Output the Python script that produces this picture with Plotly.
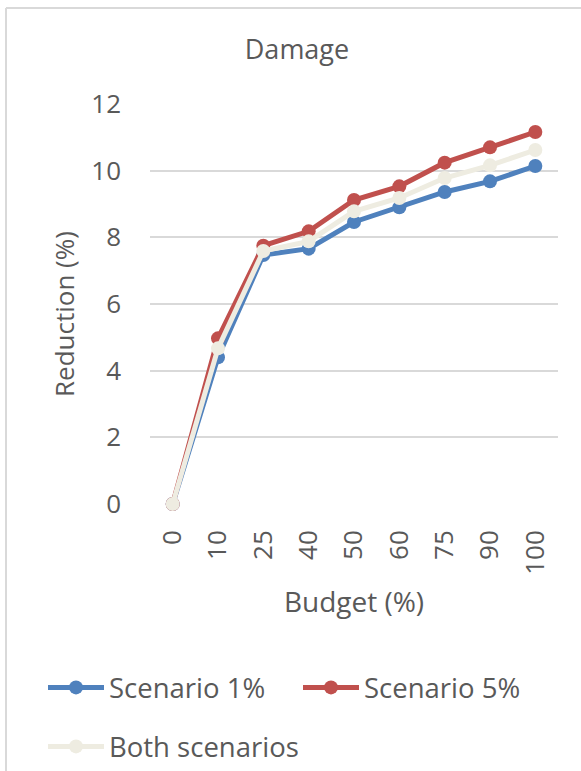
import plotly.graph_objects as go

# Budget levels (category labels on the x axis)
budget = ["0", "10", "25", "40", "50", "60", "75", "90", "100"]

# Damage reduction (%) per scenario
scenario_1 = [0.0, 4.40, 7.47, 7.66, 8.46, 8.90, 9.36, 9.68, 10.14]
scenario_5 = [0.0, 4.97, 7.75, 8.18, 9.12, 9.53, 10.24, 10.70, 11.16]
both = [0.0, 4.67, 7.59, 7.88, 8.78, 9.18, 9.78, 10.16, 10.62]

y_ticks = [0, 2, 4, 6, 8, 10, 12]

series = [
    ("Scenario 1%", scenario_1, "#4F81BD", "legend"),
    ("Scenario 5%", scenario_5, "#C0504D", "legend"),
    ("Both scenarios", both, "#EEECE1", "legend2"),
]

FONT = "Open Sans"
TEXT = "#595959"

fig = go.Figure()
for name, vals, color, leg in series:
    fig.add_trace(go.Scatter(
        x=budget, y=vals, name=name, mode="lines+markers",
        line=dict(color=color, width=5),
        marker=dict(color=color, size=14),
        cliponaxis=False, legend=leg,
    ))

W, H = 581, 771
L, R, T, B = 150, 23, 104, 267
pw, ph = W - L - R, H - T - B


def px_x(px):
    return (px - L) / pw


def px_y(py):
    return (H - B - py) / ph


legend_common = dict(
    orientation="h", xanchor="left", yanchor="top",
    font=dict(family=FONT, size=27.5, color=TEXT),
    entrywidth=184, entrywidthmode="pixels", itemwidth=56,
    traceorder="normal", bgcolor="rgba(0,0,0,0)",
)

fig.update_layout(
    width=W, height=H,
    margin=dict(l=L, r=R, t=T, b=B, pad=0, autoexpand=False),
    paper_bgcolor="white", plot_bgcolor="white",
    font=dict(family=FONT, color=TEXT, size=26),
    title=dict(text="Damage", x=297 / W, xanchor="center", xref="container",
               y=1 - 50 / H, yanchor="middle", yref="container",
               font=dict(family=FONT, size=27, color=TEXT)),
    showlegend=True,
    legend=dict(x=px_x(43), y=px_y(663), **legend_common),
    legend2=dict(x=px_x(43), y=px_y(722), **legend_common),
    xaxis=dict(
        type="category", range=[-0.5, 8.5], tickangle=-90,
        showgrid=False, zeroline=False, showline=False, ticks="",
        ticklabelstandoff=20,
        tickfont=dict(family=FONT, size=26, color=TEXT),
        title=dict(text="Budget (%)", standoff=18,
                   font=dict(family=FONT, size=28, color=TEXT)),
    ),
    yaxis=dict(
        range=[0, 12], tickvals=y_ticks,
        showgrid=True, gridcolor="#D9D9D9", gridwidth=1.5,
        zeroline=False, showline=False, ticks="",
        ticklabelstandoff=28,
        tickfont=dict(family=FONT, size=26, color=TEXT),
    ),
    annotations=[dict(
        text="Reduction (%)", textangle=-90, showarrow=False,
        xref="paper", yref="paper", x=px_x(64), y=px_y(314),
        xanchor="center", yanchor="middle",
        font=dict(family=FONT, size=26, color=TEXT),
    )],
)

# Outer frame of the chart area (top and left edges)
x0 = px_x(6)
y_top = px_y(8)
y_bot = px_y(H + 5)
x_right = px_x(W + 5)
fig.add_shape(type="line", xref="paper", yref="paper", x0=x0, x1=x_right, y0=y_top, y1=y_top,
              line=dict(color="#D9D9D9", width=2), layer="below")
fig.add_shape(type="line", xref="paper", yref="paper", x0=x0, x1=x0, y0=y_top, y1=y_bot,
              line=dict(color="#D9D9D9", width=2), layer="below")

fig.write_html("out.html")
